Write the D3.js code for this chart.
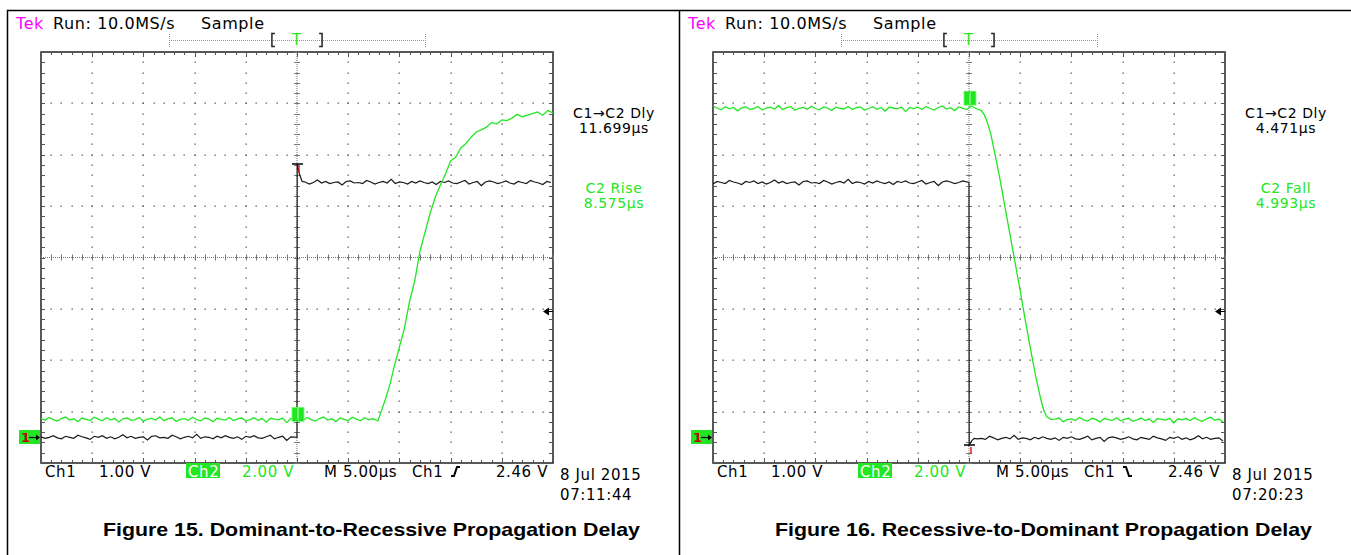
<!DOCTYPE html>
<meta charset="utf-8">
<style>
    body { margin: 0; background: #fff; }
    .scr { font-family: "DejaVu Sans", sans-serif; }
    .cap { font-family: "Liberation Sans", Arial, sans-serif; font-weight: bold; }
</style>
<svg width="1351" height="555"></svg>

<script src="https://d3js.org/d3.v7.min.js"></script>
<script>
    // scope setup: 5 us/div, trigger in the centre, 8 vertical divisions
    var timeDomain = [-25, 25];
    var divDomain = [-4, 4];
    var ch1 = { offset: -3.5, vdiv: 1.0 };
    var ch2 = { offset: -3.5, vdiv: 2.0 };
    var trigLevel = 2.46;
    var sampleStep = 0.4; // us between drawn samples

    var noiseCh1 = [0.01, -0.02, 0.00, 0.03, -0.01, -0.03, 0.02, 0.00, -0.02, 0.04, 0.01, -0.01, -0.04, 0.02, 0.00,
        0.03, -0.02, 0.01, -0.03, 0.00, 0.05, -0.01, 0.02, -0.02, 0.00, 0.01, -0.05, 0.02, 0.03, -0.01, 0.00, -0.02,
        0.04, 0.01, -0.03, 0.00, 0.02, -0.01, 0.06, -0.02, 0.01, 0.00, -0.03, 0.02, -0.01, 0.03, 0.00, -0.02, 0.01,
        -0.04, 0.02, 0.00, 0.03, -0.01, -0.02, 0.01, 0.04, -0.03, 0.00, 0.02, -0.06, 0.01, 0.03];
    var noiseCh2 = [0.05, -0.03, 0.08, 0.00, -0.06, 0.04, 0.10, -0.02, 0.03, -0.08, 0.06, 0.01, -0.04, 0.09, 0.02,
        -0.05, 0.07, -0.01, 0.04, -0.09, 0.03, 0.06, -0.03, 0.00, 0.08, -0.06, 0.02, 0.05, -0.02, 0.11, -0.04, 0.03,
        0.07, -0.07, 0.01, 0.04, -0.03, 0.09, 0.00, -0.05, 0.06, 0.02, -0.08, 0.05, 0.01, -0.02, 0.08, -0.04, 0.03,
        0.06, -0.06, 0.00, 0.07, -0.03, 0.04, -0.10, 0.05, 0.02, -0.01, 0.06, -0.12, 0.04, 0.00];

    // Figure 15: dominant -> recessive
    var f15Ch1Low = 0.00, f15Ch1High = 4.96;
    var f15Ch1Edge = [[0, 0.00], [0.02, 5.32], [0.25, 5.12], [0.5, 4.98]];
    var f15Ch2Low = 0.69;
    var f15Ch2Rise = [[7.9, 0.70], [8.3, 1.05], [8.7, 1.55], [9.1, 2.13], [9.5, 2.70], [10.0, 3.50], [10.5, 4.30],
        [11.0, 5.25], [11.5, 6.10], [12.0, 7.20], [12.5, 8.05], [13.0, 8.70], [13.5, 9.30], [14.0, 9.85],
        [14.5, 10.25], [15.0, 10.70], [15.5, 10.95], [16.0, 11.25], [16.5, 11.40], [17.0, 11.70], [17.5, 11.80],
        [18.0, 12.00], [18.5, 12.05], [19.0, 12.20], [19.5, 12.25], [20.0, 12.35], [20.5, 12.30], [21.0, 12.45],
        [21.5, 12.50], [22.0, 12.48], [22.5, 12.58], [23.0, 12.55], [23.5, 12.65], [24.0, 12.60], [24.5, 12.68],
        [25.0, 12.62]];

    // Figure 16: recessive -> dominant
    var f16Ch1High = 4.96, f16Ch1Low = -0.02;
    var f16Ch1Edge = [[0, 4.96], [0.02, -0.15], [0.3, -0.06], [0.5, -0.02]];
    var f16Ch2High = 12.80, f16Ch2Low = 0.68;
    var f16Ch2Fall = [[0.8, 12.78], [1.2, 12.72], [1.5, 12.55], [1.8, 12.25], [2.1, 11.85], [2.5, 11.10],
        [3.0, 10.10], [3.5, 9.00], [4.0, 7.90], [4.5, 6.80], [5.0, 5.70], [5.5, 4.55], [6.0, 3.45], [6.5, 2.40],
        [7.0, 1.50], [7.3, 1.05], [7.6, 0.80], [8.0, 0.70]];

    var headerTexts = ["Run: 10.0MS/s", "Sample"];
    var scaleTexts = ["Ch1", "1.00 V", "Ch2", "2.00 V", "M 5.00µs", "Ch1", "2.46 V"];

    function flat(t0, t1, level, noise, k) {
        var out = [];
        for (var i = 0, t = t0; t <= t1 + 1e-9; i++, t = t0 + i * sampleStep) {
            out.push([t, level + noise[(i + k) % noise.length]]);
        }
        return out;
    }
    function rough(points, noise, k, amt) {
        return points.map(function (d, i) { return [d[0], d[1] + amt * noise[(i + k) % noise.length]]; });
    }

    var panels = [
        {
            dx: 0,
            title: "Figure 15. Dominant-to-Recessive Propagation Delay",
            meas: [["C1\u2192C2 Dly", "11.699µs"], ["C2 Rise", "8.575µs"]],
            slope: "rise", date: "8 Jul 2015", time: "07:11:44",
            ch1Data: flat(-25, -0.3, f15Ch1Low, noiseCh1, 0)
                .concat(f15Ch1Edge, flat(0.8, 25, f15Ch1High, noiseCh1, 17)),
            ch2Data: flat(-25, 7.6, f15Ch2Low, noiseCh2, 0)
                .concat(rough(f15Ch2Rise, noiseCh2, 9, 0.8)),
            ch1Mark: "top", ch2Mark: "below"
        },
        {
            dx: 672,
            title: "Figure 16. Recessive-to-Dominant Propagation Delay",
            meas: [["C1\u2192C2 Dly", "4.471µs"], ["C2 Fall", "4.993µs"]],
            slope: "fall", date: "8 Jul 2015", time: "07:20:23",
            ch1Data: flat(-25, -0.3, f16Ch1High, noiseCh1, 5)
                .concat(f16Ch1Edge, flat(0.8, 25, f16Ch1Low, noiseCh1, 29)),
            ch2Data: flat(-25, 0.6, f16Ch2High, noiseCh2, 13)
                .concat(f16Ch2Fall, flat(8.4, 25, f16Ch2Low, noiseCh2, 31)),
            ch1Mark: "bottom", ch2Mark: "above"
        }
    ];

    var svg = d3.select("svg");
    var green = "#22e622", black = "#1a1a1a", grid = "#555";
    var plot = { left: 41, top: 52, width: 512, height: 411 };

    var x = d3.scaleLinear().domain(timeDomain).range([plot.left, plot.left + plot.width]);
    var y = d3.scaleLinear().domain(divDomain).range([plot.top + plot.height, plot.top]);
    function yv(ch) { return function (v) { return y(ch.offset + v / ch.vdiv); }; }
    var y1 = yv(ch1), y2 = yv(ch2);

    // outer frame
    svg.append("rect").attr("width", 1351).attr("height", 555).attr("fill", "#fff");
    svg.append("path").attr("d", "M7.5,555V10.5H1351M679.5,10.5V555")
        .attr("fill", "none").attr("stroke", "#000").attr("stroke-width", 1.5);

    var minorT = d3.range(-25, 25.001, 1), majorT = d3.range(-20, 20.001, 5);
    var minorD = d3.range(-4, 4.001, 0.2), majorD = d3.range(-3, 3.001, 1);

    svg.append("defs").append("clipPath").attr("id", "plotclip").append("rect")
        .attr("x", plot.left).attr("y", plot.top).attr("width", plot.width).attr("height", plot.height);

    function scrText(sel, size) {
        return sel.attr("class", "scr").attr("font-size", size || 16).attr("letter-spacing", 0.6);
    }

    panels.forEach(function (p) {
        var g = svg.append("g").attr("transform", "translate(" + p.dx + ",0)");

        // header
        scrText(g.append("text")).attr("x", 16).attr("y", 29).attr("fill", "#ff00ff").text("Tek");
        scrText(g.selectAll(".hdr").data(headerTexts).enter().append("text"))
            .attr("x", function (d, i) { return [53, 201][i]; }).attr("y", 29)
            .attr("fill", "#000").text(function (d) { return d; });

        // record bar
        var rec = d3.scaleLinear().domain([0, 1]).range([169, 425]);
        var win = [0.402, 0.598];
        g.append("line").attr("x1", rec(0)).attr("x2", rec(1)).attr("y1", 40.5).attr("y2", 40.5)
            .attr("stroke", green).attr("stroke-dasharray", "1,1");
        g.selectAll(".rend").data([0, 1]).enter().append("line")
            .attr("x1", function (d) { return rec(d) + 0.5; }).attr("x2", function (d) { return rec(d) + 0.5; })
            .attr("y1", 34).attr("y2", 47).attr("stroke", green).attr("stroke-dasharray", "1,1");
        g.append("path").attr("fill", "none").attr("stroke", "#222").attr("stroke-width", 1.5)
            .attr("d", "M" + (rec(win[0]) + 3) + ",33.5h-3v13h3M" + (rec(win[1]) - 3) + ",33.5h3v13h-3");
        scrText(g.append("text"), 15).attr("x", rec(0.5)).attr("y", 45).attr("text-anchor", "middle")
            .attr("fill", green).text("T");

        // plot frame
        g.append("rect").attr("x", plot.left).attr("y", plot.top).attr("width", plot.width).attr("height", plot.height)
            .attr("fill", "none").attr("stroke", "#222").attr("stroke-width", 1.5);

        // dotted major grid
        var dots = [];
        majorT.filter(function (t) { return t !== 0; }).forEach(function (t) {
            minorD.forEach(function (d) { dots.push([x(t), y(d)]); });
        });
        majorD.filter(function (d) { return d !== 0; }).forEach(function (d) {
            minorT.forEach(function (t) { dots.push([x(t), y(d)]); });
        });
        g.append("g").selectAll("rect").data(dots).enter().append("rect")
            .attr("x", function (d) { return Math.round(d[0]) - 0.5; })
            .attr("y", function (d) { return Math.round(d[1]) - 0.5; })
            .attr("width", 1.3).attr("height", 1.3).attr("fill", grid);

        // centre crosshair with ruler ticks
        g.append("line").attr("x1", plot.left).attr("x2", plot.left + plot.width).attr("y1", y(0)).attr("y2", y(0))
            .attr("stroke", "#777").attr("stroke-dasharray", "1,1");
        g.append("line").attr("y1", plot.top).attr("y2", plot.top + plot.height).attr("x1", x(0)).attr("x2", x(0))
            .attr("stroke", "#777").attr("stroke-dasharray", "1,1");
        g.append("g").selectAll("line").data(minorT).enter().append("line")
            .attr("x1", function (t) { return Math.round(x(t)) + 0.5; }).attr("x2", function (t) { return Math.round(x(t)) + 0.5; })
            .attr("y1", y(0) - 3).attr("y2", y(0) + 3).attr("stroke", "#777");
        g.append("g").selectAll("line").data(minorD).enter().append("line")
            .attr("y1", function (d) { return Math.round(y(d)) + 0.5; }).attr("y2", function (d) { return Math.round(y(d)) + 0.5; })
            .attr("x1", x(0) - 3).attr("x2", x(0) + 3).attr("stroke", "#777");

        // edge ticks on the frame
        var edge = g.append("g").attr("stroke", grid);
        minorT.forEach(function (t) {
            var xx = Math.round(x(t)) + 0.5, len = majorT.indexOf(t) >= 0 ? 5 : 3;
            edge.append("line").attr("x1", xx).attr("x2", xx).attr("y1", plot.top).attr("y2", plot.top + len);
            edge.append("line").attr("x1", xx).attr("x2", xx).attr("y1", plot.top + plot.height).attr("y2", plot.top + plot.height - len);
        });
        minorD.forEach(function (d) {
            var yy = Math.round(y(d)) + 0.5;
            edge.append("line").attr("y1", yy).attr("y2", yy).attr("x1", plot.left).attr("x2", plot.left + 4);
            edge.append("line").attr("y1", yy).attr("y2", yy).attr("x1", plot.left + plot.width).attr("x2", plot.left + plot.width - 4);
        });

        // traces
        var traces = g.append("g").attr("clip-path", "url(#plotclip)");
        traces.append("path").datum(p.ch1Data)
            .attr("fill", "none").attr("stroke", black).attr("stroke-width", 1.2)
            .attr("d", d3.line().x(function (d) { return x(d[0]); }).y(function (d) { return y1(d[1]); }));
        traces.append("path").datum(p.ch2Data)
            .attr("fill", "none").attr("stroke", green).attr("stroke-width", 1.3)
            .attr("d", d3.line().x(function (d) { return x(d[0]); }).y(function (d) { return y2(d[1]); }));

        // trigger markers on the traces
        var x0 = Math.round(x(0));
        var c2 = y2(p.ch2Data.find(function (d) { return d[0] >= 0; })[1]);
        var by = p.ch2Mark === "below" ? c2 - 11 : c2 - 15;
        g.append("rect").attr("x", x0 - 5).attr("y", by).attr("width", 12).attr("height", 14).attr("fill", green)
            .attr("stroke", "#7f7").attr("stroke-width", 0.8);
        g.append("line").attr("x1", x0 + 1).attr("x2", x0 + 1).attr("y1", by + 1).attr("y2", by + 13).attr("stroke", "#bfb");
        g.append("line").attr("x1", x0 - 4).attr("x2", x0 + 6).attr("y1", p.ch2Mark === "below" ? by + 13 : by + 1)
            .attr("y2", p.ch2Mark === "below" ? by + 13 : by + 1).attr("stroke", "#e33").attr("stroke-dasharray", "1,3");

        var m1 = p.ch1Mark === "top" ? y1(5.32) : y1(-0.15);
        g.append("line").attr("x1", x0 - 5).attr("x2", x0 + 6).attr("y1", m1).attr("y2", m1).attr("stroke", "#000").attr("stroke-width", 1.5);
        g.append("line").attr("x1", x0 + 2).attr("x2", x0 + 2).attr("y1", m1 + 2)
            .attr("y2", m1 + 9).attr("stroke", "#d22").attr("stroke-width", 1.5);

        // ch1 ground marker
        var gy = Math.round(y(ch1.offset));
        g.append("rect").attr("x", 19).attr("y", gy - 7).attr("width", 21).attr("height", 14).attr("fill", green);
        g.append("text").attr("class", "scr").attr("x", 21).attr("y", gy + 5).attr("font-size", 13).attr("font-weight", "bold")
            .attr("fill", "#c00").text("1");
        g.append("path").attr("d", "M29," + (gy + 0.5) + "h8").attr("stroke", "#000").attr("stroke-width", 1.2);
        g.append("path").attr("d", "M40," + (gy + 0.5) + "l-4,-3v6z").attr("fill", "#000");

        // trigger level arrow
        var ty = Math.round(y1(trigLevel)) + 0.5;
        g.append("path").attr("d", "M" + (plot.left + plot.width - 10) + "," + ty + "l6,-4v8z").attr("fill", "#000");
        g.append("path").attr("d", "M" + (plot.left + plot.width - 5) + "," + ty + "h5").attr("stroke", "#000");

        // measurements
        var mx = 614;
        p.meas.forEach(function (m, i) {
            var col = i === 0 ? "#000" : green, base = i === 0 ? 118 : 193;
            scrText(g.append("text"), 14).attr("x", mx).attr("y", base).attr("text-anchor", "middle")
                .attr("fill", col).text(m[0]);
            scrText(g.append("text"), 14).attr("x", mx).attr("y", base + 15).attr("text-anchor", "middle")
                .attr("fill", col).text(m[1]);
        });

        // bottom scale readouts
        var sx = [45, 99, 188, 242, 324, 412, 548];
        g.append("rect").attr("x", 186).attr("y", 463).attr("width", 34).attr("height", 15).attr("fill", green);
        scrText(g.selectAll(".sc").data(scaleTexts).enter().append("text"), 15)
            .attr("x", function (d, i) { return sx[i]; }).attr("y", 477)
            .attr("text-anchor", function (d, i) { return i === 6 ? "end" : "start"; })
            .attr("fill", function (d, i) { return i === 2 ? "#fff" : i === 3 ? green : "#000"; })
            .text(function (d) { return d; });
        g.append("path").attr("fill", "none").attr("stroke", "#000").attr("stroke-width", 2)
            .attr("d", p.slope === "rise" ? "M451,476h3l3,-9h3" : "M451,467h3l3,9h3");

        scrText(g.append("text"), 15).attr("x", 560).attr("y", 480).text(p.date);
        scrText(g.append("text"), 15).attr("x", 560).attr("y", 500).text(p.time);

        // figure caption
        g.append("text").attr("class", "cap").attr("x", 103).attr("y", 536)
            .attr("font-size", 19).attr("textLength", 537).attr("lengthAdjust", "spacingAndGlyphs")
            .text(p.title);
    });
</script>
